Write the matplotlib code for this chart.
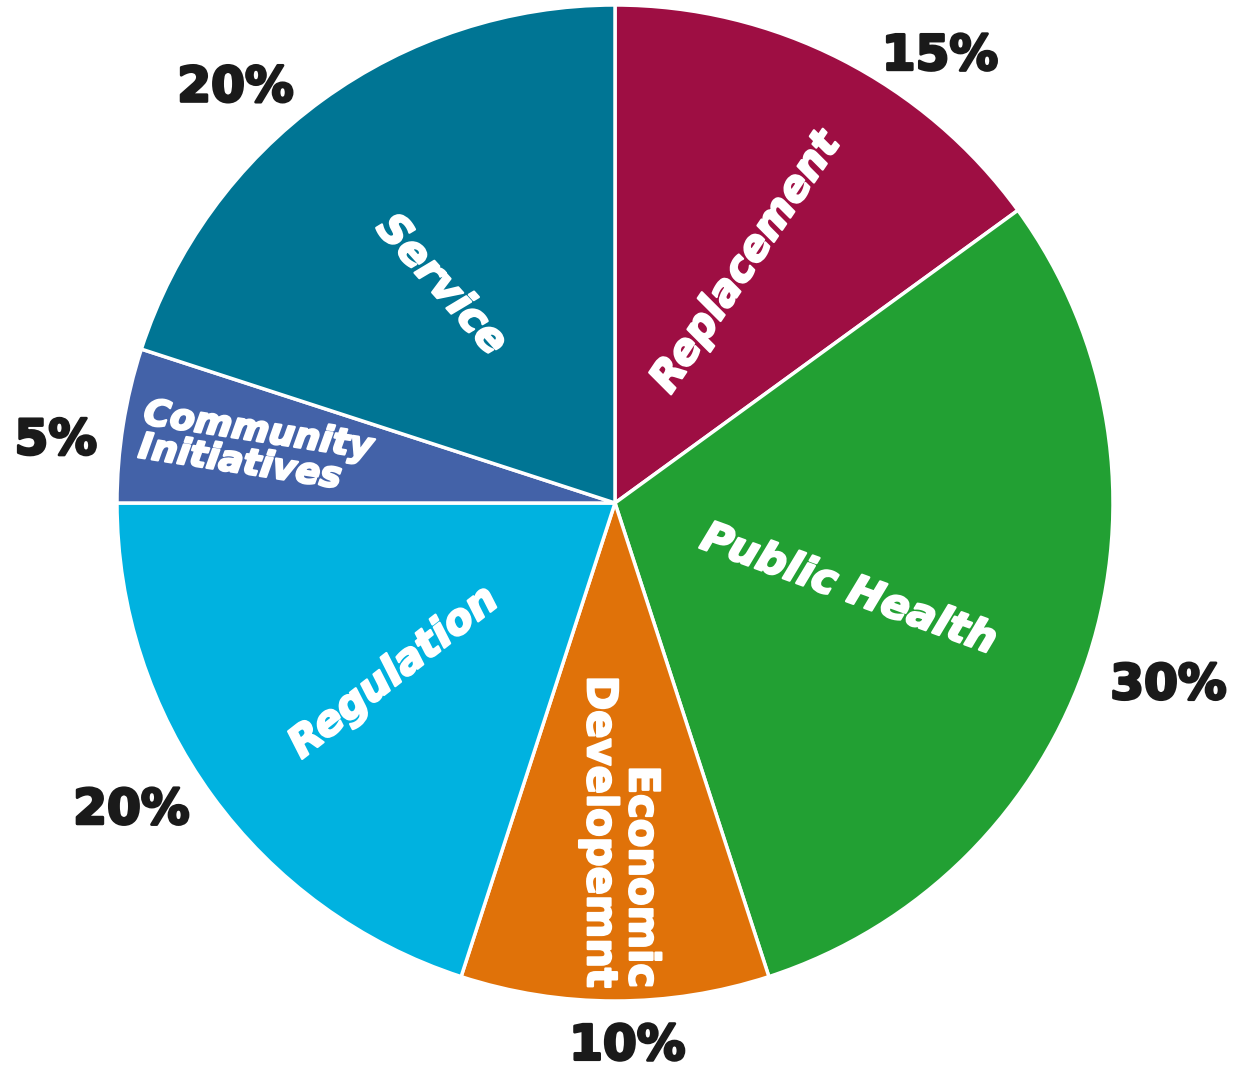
import matplotlib
matplotlib.use("Agg")
import matplotlib.pyplot as plt
import matplotlib.patheffects as pe
import numpy as np

categories = ["Replacement", "Public Health", "Economic\nDevelopemnt", "Regulation",
              "Community\nInitiatives", "Service"]
values = [15, 30, 10, 20, 5, 20]
pct_labels = ["15%", "30%", "10%", "20%", "5%", "20%"]
colors = ["#9E0E43", "#22A033", "#E07209", "#00B2E0", "#4362A8", "#007594"]

# styling / placement tweaks (per slice)
in_r = [0.55, 0.50, 0.66, 0.56, 0.73, 0.56]          # fraction of radius
in_dang = [-1.5, -2.3, 1.0, 1.4, 0.3, 2.5]           # angle offset (deg)
in_rot = [56, -20, -90, 38, -8.7, -48]
in_size = [30, 30, 30, 30, 26, 30]
in_align = ["center", "center", "right", "center", "left", "center"]
in_style = ["italic", "italic", "normal", "italic", "italic", "italic"]
out_r = [1.11, 1.17, 1.09, 1.15, 1.13, 1.13]
out_dang = [-9, -0.2, 1.3, -3.6, 2.6, 6.4]

W, H = 1243, 1073
cx, cy, R = 615, 503, 498
fig = plt.figure(figsize=(W / 100, H / 100), dpi=100)
ax = fig.add_axes([0, 0, 1, 1])
wedges, _ = ax.pie(values, colors=colors, startangle=90, counterclock=False,
                   radius=R, center=(0, 0),
                   wedgeprops=dict(edgecolor="white", linewidth=2.5))
ax.set_xlim(-cx, W - cx)
ax.set_ylim(-(H - cy), cy)
ax.set_aspect("equal")
ax.axis("off")

for i, w in enumerate(wedges):
    mid = 0.5 * (w.theta1 + w.theta2)
    a = np.deg2rad(mid + in_dang[i])
    ax.text(in_r[i] * R * np.cos(a), in_r[i] * R * np.sin(a), categories[i],
            rotation=in_rot[i], rotation_mode="anchor", ha="center", va="center",
            multialignment=in_align[i], color="white", fontsize=in_size[i],
            fontweight="bold", fontstyle=in_style[i], family="DejaVu Sans",
            linespacing=1.0,
            path_effects=[pe.withStroke(linewidth=1.6, foreground="white")])
    b = np.deg2rad(mid + out_dang[i])
    ax.text(out_r[i] * R * np.cos(b), out_r[i] * R * np.sin(b), pct_labels[i],
            ha="center", va="center", color="#1a1a1a", fontsize=35,
            fontweight="bold", family="DejaVu Sans",
            path_effects=[pe.withStroke(linewidth=2.0, foreground="#1a1a1a")])

fig.savefig("out.png", dpi=100, facecolor="white")
